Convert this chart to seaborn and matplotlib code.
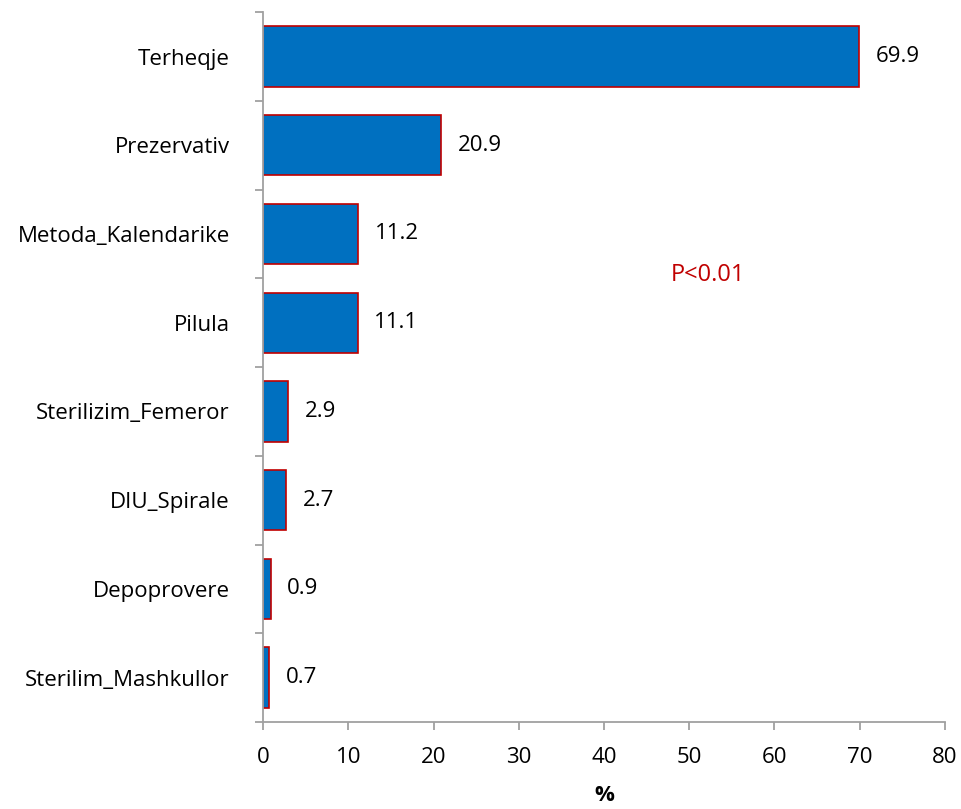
import pandas as pd
import numpy as np
import seaborn as sns
import matplotlib.pyplot as plt
from matplotlib.ticker import FixedLocator

# data
methods = ['Terheqje', 'Prezervativ', 'Metoda_Kalendarike', 'Pilula',
           'Sterilizim_Femeror', 'DIU_Spirale', 'Depoprovere', 'Sterilim_Mashkullor']
percent = [69.9, 20.9, 11.2, 11.1, 2.9, 2.7, 0.9, 0.7]

df = pd.DataFrame({'Metoda': methods, 'Perqindja': percent})

sns.set_style('white')
plt.rcParams['font.family'] = ['Open Sans', 'DejaVu Sans']
plt.rcParams['text.color'] = 'black'
plt.rcParams['xtick.color'] = 'black'
plt.rcParams['ytick.color'] = 'black'
plt.rcParams['axes.labelcolor'] = 'black'

fs = 16

fig = plt.figure(figsize=(9.62, 8.09), dpi=100)
ax = fig.add_axes([0.2734, 0.1075, 0.7089, 0.8775])

sns.barplot(data=df, x='Perqindja', y='Metoda', orient='h', ax=ax,
            color='#0070C0', edgecolor='#C00000', linewidth=1.2,
            width=0.68, saturation=1)

for c in ax.containers:
    ax.bar_label(c, labels=[f'{v:.1f}' for v in percent], padding=12, fontsize=fs)

ax.set_xlim(0, 80)
ax.set_ylim(len(methods) - 0.5, -0.5)
ax.set_xticks(np.arange(0, 81, 10))

# tick marks between categories, labels at the centres
ax.yaxis.set_minor_locator(FixedLocator(np.arange(-0.5, len(methods), 1)))
ax.tick_params(axis='y', which='major', left=True, length=0, pad=24, labelsize=fs)
ax.tick_params(axis='y', which='minor', left=True, length=6, color='#A0A0A0', width=1.3)
ax.tick_params(axis='x', bottom=True, length=6, color='#A0A0A0', width=1.3,
               labelsize=fs, pad=12)

for side in ['top', 'right']:
    ax.spines[side].set_visible(False)
for side in ['left', 'bottom']:
    ax.spines[side].set_color('#A0A0A0')
    ax.spines[side].set_linewidth(1.3)

ax.set_ylabel('')
ax.set_xlabel('%', fontsize=fs, fontweight='bold', labelpad=12)

ax.text(0.652, 0.63, 'P<0.01', transform=ax.transAxes, color='#C00000',
        fontsize=fs + 1, ha='center', va='center')

fig.savefig('out.png', dpi=100)
